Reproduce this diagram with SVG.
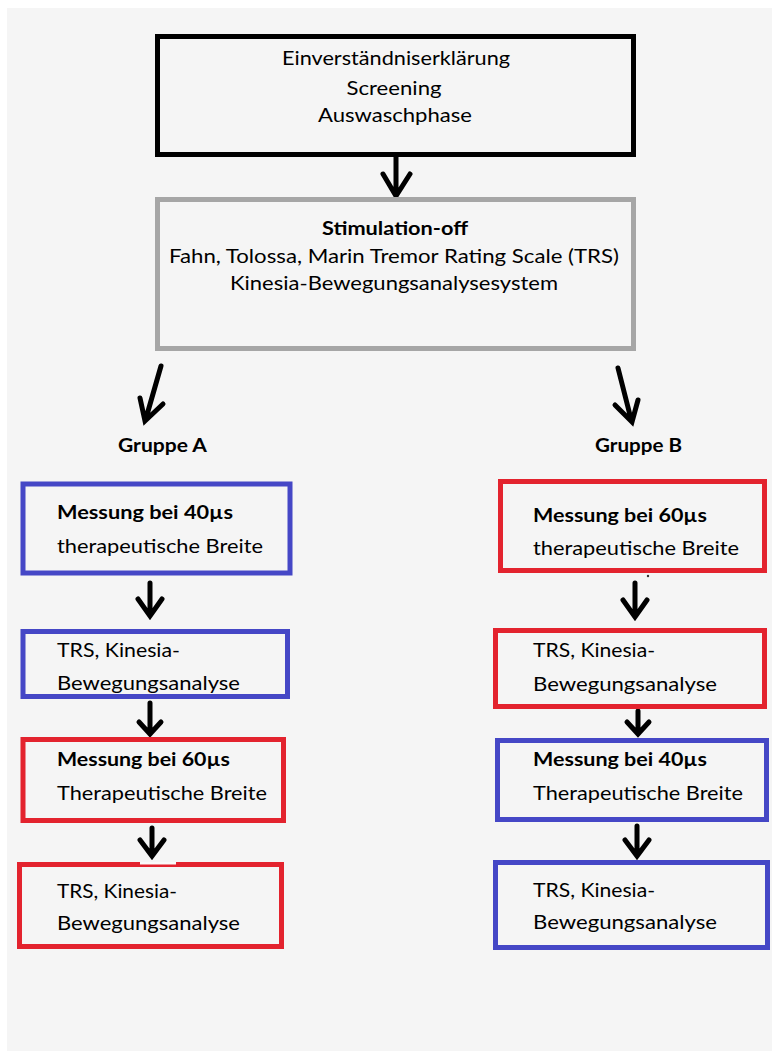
<svg xmlns="http://www.w3.org/2000/svg" width="772" height="1051" viewBox="0 0 772 1051">
<style>
  text { font-family: Lato, "Open Sans", "Liberation Sans", sans-serif; font-size: 19px; fill: #000; }
  .c { text-anchor: middle; }
  .b { font-weight: bold; }
  .box { fill: none; stroke-width: 5; }
  .blk { stroke: #000; }
  .gry { stroke: #a6a6a6; }
  .blu { stroke: #4547c6; }
  .red { stroke: #e3232e; }
  .arr { fill: none; stroke: #000; stroke-width: 5; stroke-linecap: round; stroke-linejoin: miter; }
</style>
<rect x="0" y="0" width="772" height="1051" fill="#ffffff"/>
<rect x="7" y="8" width="765" height="1043" fill="#f5f5f5"/>

<g id="connectors">
  <path class="arr" d="M396,157 L396,195 M383,174 L396,196 L410,174"/>
  <path class="arr" d="M161,366 L145.5,420 M140,398 L145,421 L163,404"/>
  <path class="arr" d="M618,368 L631.5,421 M615,405 L632,422 L638,400"/>
  <path class="arr" d="M150,583 L150,615 M138,599 L150,616 L162,599"/>
  <path class="arr" d="M150,703 L150,733 M139,722 L150,734 L161,722"/>
  <path class="arr" d="M152,828 L152,855 M140,840 L152,856 L164,840"/>
  <path class="arr" d="M635,583 L635,616 M623,600 L635,617 L647,600"/>
  <path class="arr" d="M638,711 L638,733 M627,722 L638,734 L649,722"/>
  <path class="arr" d="M637,826 L637,855 M625,840 L637,856 L649,840"/>
</g>

<g id="n-start">
  <rect class="box blk" x="157.5" y="36.5" width="476" height="118"/>
  <text class="c" x="396" y="65" textLength="228" lengthAdjust="spacingAndGlyphs">Einverständniserklärung</text>
  <text class="c" x="394" y="95" textLength="95" lengthAdjust="spacingAndGlyphs">Screening</text>
  <text class="c" x="395" y="122" textLength="154" lengthAdjust="spacingAndGlyphs">Auswaschphase</text>
</g>

<g id="n-stimoff">
  <rect class="box gry" x="157.5" y="199.5" width="476" height="149"/>
  <text class="c b" x="395" y="235" textLength="146" lengthAdjust="spacingAndGlyphs">Stimulation-off</text>
  <text class="c" x="394" y="263" textLength="450" lengthAdjust="spacingAndGlyphs">Fahn, Tolossa, Marin Tremor Rating Scale (TRS)</text>
  <text class="c" x="394" y="290" textLength="328" lengthAdjust="spacingAndGlyphs">Kinesia-Bewegungsanalysesystem</text>
</g>

<g id="label-a">
  <text class="b" x="118" y="452" textLength="89" lengthAdjust="spacingAndGlyphs">Gruppe A</text>
</g>
<g id="label-b">
  <text class="b" x="595" y="452" textLength="87" lengthAdjust="spacingAndGlyphs">Gruppe B</text>
</g>

<g id="a1">
  <rect class="box blu" x="23" y="484" width="267" height="89"/>
  <text class="b" x="57" y="519" textLength="176" lengthAdjust="spacingAndGlyphs">Messung bei 40µs</text>
  <text x="57" y="553" textLength="206" lengthAdjust="spacingAndGlyphs">therapeutische Breite</text>
</g>
<g id="a2">
  <rect class="box blu" x="23" y="631.5" width="264.5" height="65"/>
  <text x="57" y="657" textLength="123" lengthAdjust="spacingAndGlyphs">TRS, Kinesia-</text>
  <text x="57" y="690" textLength="183" lengthAdjust="spacingAndGlyphs">Bewegungsanalyse</text>
</g>
<g id="a3">
  <rect class="box red" x="23" y="739.5" width="260.5" height="81"/>
  <text class="b" x="57" y="766" textLength="173" lengthAdjust="spacingAndGlyphs">Messung bei 60µs</text>
  <text x="57" y="800" textLength="210" lengthAdjust="spacingAndGlyphs">Therapeutische Breite</text>
</g>
<g id="a4">
  <rect class="box red" x="19.5" y="864.5" width="262" height="82"/>
  <rect x="140" y="862" width="36" height="2.5" fill="#fafafa"/>
  <text x="57" y="898" textLength="120" lengthAdjust="spacingAndGlyphs">TRS, Kinesia-</text>
  <text x="57" y="930" textLength="183" lengthAdjust="spacingAndGlyphs">Bewegungsanalyse</text>
</g>

<g id="b1">
  <rect class="box red" x="500.5" y="481.5" width="264" height="89"/>
  <circle cx="648" cy="576" r="1.2" fill="#333"/>
  <text class="b" x="533" y="522" textLength="174" lengthAdjust="spacingAndGlyphs">Messung bei 60µs</text>
  <text x="533" y="555" textLength="206" lengthAdjust="spacingAndGlyphs">therapeutische Breite</text>
</g>
<g id="b2">
  <rect class="box red" x="495.5" y="630.5" width="269" height="76"/>
  <text x="533" y="657" textLength="122" lengthAdjust="spacingAndGlyphs">TRS, Kinesia-</text>
  <text x="533" y="691" textLength="184" lengthAdjust="spacingAndGlyphs">Bewegungsanalyse</text>
</g>
<g id="b3">
  <rect class="box blu" x="497.5" y="740.5" width="269" height="79"/>
  <text class="b" x="533" y="766" textLength="174" lengthAdjust="spacingAndGlyphs">Messung bei 40µs</text>
  <text x="533" y="800" textLength="210" lengthAdjust="spacingAndGlyphs">Therapeutische Breite</text>
</g>
<g id="b4">
  <rect class="box blu" x="495.5" y="862.5" width="272" height="85"/>
  <text x="533" y="897" textLength="122" lengthAdjust="spacingAndGlyphs">TRS, Kinesia-</text>
  <text x="533" y="929" textLength="184" lengthAdjust="spacingAndGlyphs">Bewegungsanalyse</text>
</g>
</svg>
